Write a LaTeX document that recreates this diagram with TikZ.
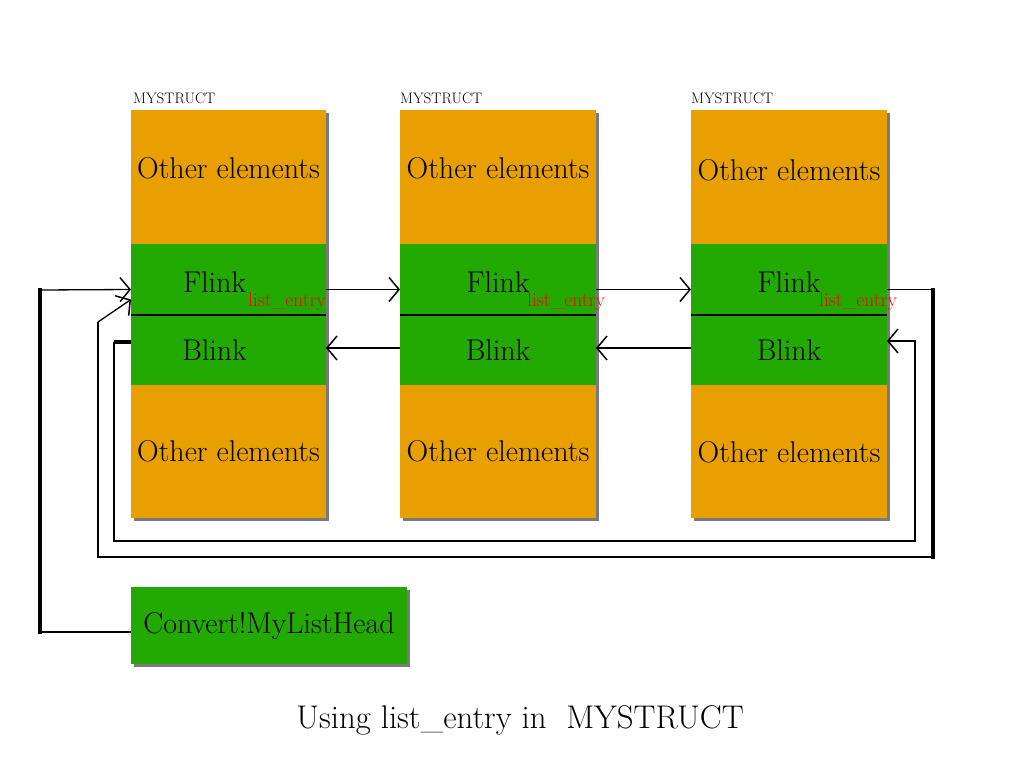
\documentclass[tikz,border=0pt]{standalone}
\usepackage{fontspec}
\setmainfont{Latin Modern Roman}
\usetikzlibrary{arrows.meta,calc,shadows}
\definecolor{boxorange}{RGB}{232,159,2}
\definecolor{boxgreen}{RGB}{34,170,2}
\tikzset{
  sect/.style={rectangle, inner sep=0pt, outer sep=0pt, anchor=north west,
    drop shadow={shadow xshift=2.5pt, shadow yshift=-2.5pt, opacity=0.65, fill=black!80}},
  othersect/.style={sect, fill=boxorange, minimum width=196pt},
  greensect/.style={sect, fill=boxgreen, minimum width=196pt},
  bigtext/.style={inner sep=0pt, font=\fontsize{30}{33}\selectfont},
  entry/.style={inner sep=0pt, text=red, font=\fontsize{19.5}{21}\selectfont},
  structlabel/.style={inner sep=0pt, font=\fontsize{15.2}{17}\selectfont},
  titletext/.style={inner sep=0pt, font=\fontsize{32.8}{36}\selectfont},
  divider/.style={line width=2pt},
  conn/.style={line width=1.3pt},
  midline/.style={line width=2pt, line cap=rect},
  thickline/.style={line width=3.5pt, line cap=rect},
  headarrow/.style={-{Straight Barb[length=10pt,width=24pt,line width=1.5pt]}}
}
\begin{document}
\begin{tikzpicture}[x=1pt,y=-1pt]
\fill[white] (0,0) rectangle (1024,768);
\useasboundingbox (0,0) rectangle (1024,768);

% ---- box 1
\node[othersect, minimum width=195pt, minimum height=134pt] (t1) at (131,110) {};
\node[greensect, minimum width=195pt, minimum height=71pt] (f1) at (131,244) {};
\node[greensect, minimum width=195pt, minimum height=70pt] (bl1) at (131,315) {};
\node[othersect, minimum width=195pt, minimum height=133pt] (b1) at (131,385) {};
% ---- box 2
\node[othersect, minimum height=134pt] (t2) at (400,110) {};
\node[greensect, minimum height=71pt] (f2) at (400,244) {};
\node[greensect, minimum height=70pt] (bl2) at (400,315) {};
\node[othersect, minimum height=133pt] (b2) at (400,385) {};
% ---- box 3
\node[othersect, minimum height=134pt] (t3) at (691,110) {};
\node[greensect, minimum height=71pt] (f3) at (691,244) {};
\node[greensect, minimum height=70pt] (bl3) at (691,315) {};
\node[othersect, minimum height=133pt] (b3) at (691,385) {};

% ---- list head
\node[greensect, minimum width=276pt, minimum height=77pt, font=\fontsize{30}{33}\selectfont] (conv) at (131,587) {Convert!MyListHead};

% dividers
\draw[divider] (f1.south west) -- (f1.south east);
\draw[divider] (f2.south west) -- (f2.south east);
\draw[divider] (f3.south west) -- (f3.south east);

% texts
\node[bigtext] (ot1) at ($(t1.center)+(0,-9)$) {Other elements};
\node[bigtext] (ob1) at (b1.center) {Other elements};
\node[bigtext] (fl1) at ($(f1.center)+(-14,3)$) {Flink};
\node[bigtext] (bk1) at ($(bl1.center)+(-14,0)$) {Blink};
\node[bigtext] (ot2) at ($(t2.center)+(0,-9)$) {Other elements};
\node[bigtext] (ob2) at (b2.center) {Other elements};
\node[bigtext] (fl2) at ($(f2.center)+(0,3)$) {Flink};
\node[bigtext] (bk2) at (bl2.center) {Blink};
\node[bigtext] (ot3) at ($(t3.center)+(0,-7)$) {Other elements};
\node[bigtext] (ob3) at ($(b3.center)+(0,1)$) {Other elements};
\node[bigtext] (fl3) at ($(f3.center)+(0,3)$) {Flink};
\node[bigtext] (bk3) at (bl3.center) {Blink};

\node[entry, anchor=west] (le1) at ($(f1.south west)+(117,-13)$) {list\_entry};
\node[entry, anchor=west] (le2) at ($(f2.south west)+(127,-13)$) {list\_entry};
\node[entry, anchor=west] (le3) at ($(f3.south west)+(128,-13)$) {list\_entry};

\node[structlabel, anchor=base west] (ms1) at ($(t1.north west)+(2,-7)$) {MYSTRUCT};
\node[structlabel, anchor=base west] (ms2) at ($(t2.north west)+(0,-7)$) {MYSTRUCT};
\node[structlabel, anchor=base west] (ms3) at ($(t3.north west)+(0,-7)$) {MYSTRUCT};

% forward links
\draw[conn, headarrow] ($(f1.east)+(0,10)$) -- ($(f2.west)+(0,10)$);
\draw[conn, headarrow] ($(f2.east)+(0,10)$) -- ($(f3.west)+(0,10)$);
% backward links
\draw[conn, headarrow] ($(bl2.west)+(0,-2)$) -- ($(bl1.east)+(0,-2)$);
\draw[conn, headarrow] ($(bl3.west)+(0,-2)$) -- ($(bl2.east)+(0,-2)$);

% last Flink -> first entry
\coordinate (a1) at (933,289.5);
\coordinate (a2) at (933,557);
\coordinate (a3) at (98,557);
\coordinate (a4) at (98,322);
\draw[conn] ($(f3.east)+(0,10)$) -- (a1);
\draw[thickline] (a1) -- (a2);
\draw[midline] (a2) -- (a3);
\draw[conn] (a3) -- (a4);
\draw[conn, headarrow] (a4) -- ($(f1.west)+(0,20)$);

% first Blink -> last entry
\coordinate (c1) at (114,342);
\coordinate (c2) at (114,541);
\coordinate (c3) at (915,541);
\coordinate (c4) at (915,341);
\draw[thickline, line cap=butt] ($(bl1.west)+(0,-8)$) -- (c1);
\draw[conn] (c1) -- (c2);
\draw[midline] (c2) -- (c3) -- (c4);
\draw[conn, headarrow] (c4) -- ($(bl3.east)+(0,-9)$);

% list head -> first Flink
\coordinate (h1) at (40,632);
\coordinate (h2) at (40,290);
\draw[conn] ($(conv.west)+(0,6.5)$) -- (h1);
\draw[thickline] (h1) -- (h2);
\draw[conn, headarrow] (h2) -- ($(f1.west)+(0,10)$);

% title
\node[titletext] (title) at (520,720) {Using list\_entry in\ \ MYSTRUCT};
\end{tikzpicture}
\end{document}
